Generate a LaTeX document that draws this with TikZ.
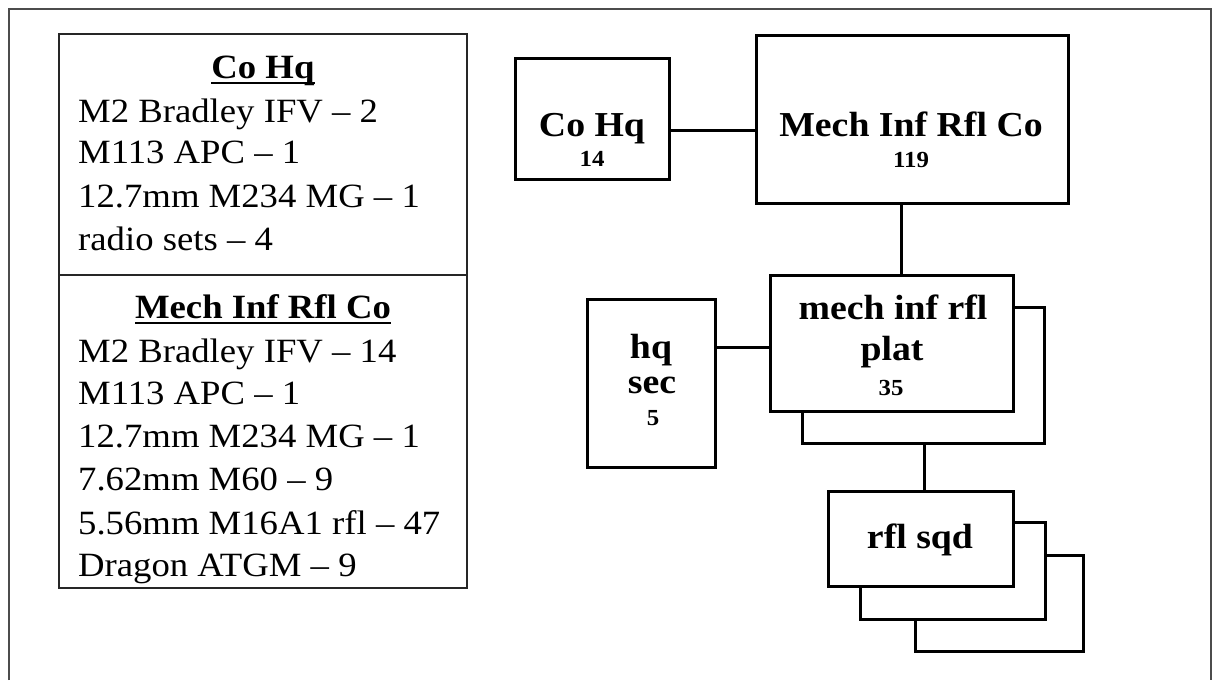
\documentclass[tikz,border=0pt]{standalone}
\usepackage{fontspec}
\setmainfont{Liberation Serif}[FakeStretch=1.08]
\newcommand\myuline[1]{\setbox0\hbox{#1}\rlap{\rule[-6pt]{\wd0}{2pt}}\box0}
\begin{document}
\begin{tikzpicture}[x=1pt,y=-1pt,
  frame/.style={draw=black!70,line width=2.5pt},
  tbl/.style={draw=black!85,line width=1.6pt,inner sep=0pt,rectangle},
  box/.style={draw=black,line width=3pt,fill=white,inner sep=0pt,rectangle},
  conn/.style={draw=black,line width=3pt},
  tbltext/.style={anchor=base west,inner sep=0pt,font=\fontsize{34}{40}\selectfont},
  tblhead/.style={anchor=base,inner sep=0pt,font=\fontsize{34}{40}\selectfont\bfseries},
  lbl/.style={anchor=base,inner sep=0pt,font=\fontsize{35}{40}\selectfont\bfseries},
  num/.style={anchor=base,inner sep=0pt,font=\fontsize{23}{26}\selectfont\bfseries},
]
\useasboundingbox (0,0) rectangle (1212,680);
\fill[white] (0,0) rectangle (1212,680);
% outer frame (open at the bottom)
\coordinate (fbl) at (9,680);
\coordinate (ftl) at (9,9);
\coordinate (ftr) at (1211,9);
\coordinate (fbr) at (1211,680);
\draw[frame] (fbl) -- (ftl) -- (ftr) -- (fbr);

% left table
\node[tbl,minimum width=408pt,minimum height=554pt] (table) at (263,311) {};
\coordinate (div) at (0,275);
\draw[draw=black!85,line width=1.6pt] (table.west |- div) -- (table.east |- div);

\node[tblhead] (h1) at (263,78) {\myuline{Co Hq}};
\node[tbltext] (a1) at (78,122) {M2 Bradley IFV – 2};
\node[tbltext] (a2) at (78,163) {M113 APC – 1};
\node[tbltext] (a3) at (78,207) {12.7mm M234 MG – 1};
\node[tbltext] (a4) at (78,250) {radio sets – 4};

\node[tblhead] (h2) at (263,318) {\myuline{Mech Inf Rfl Co}};
\node[tbltext] (b1) at (78,362) {M2 Bradley IFV – 14};
\node[tbltext] (b2) at (78,404) {M113 APC – 1};
\node[tbltext] (b3) at (78,447) {12.7mm M234 MG – 1};
\node[tbltext] (b4) at (78,490) {7.62mm M60 – 9};
\node[tbltext] (b5) at (78,534) {5.56mm M16A1 rfl – 47};
\node[tbltext] (b6) at (78,576) {Dragon ATGM – 9};

% org chart boxes
\node[box,minimum width=154pt,minimum height=121pt] (cohq) at (592,118.5) {};
\node[box,minimum width=312pt,minimum height=168pt] (mirc) at (912,119) {};
\node[box,minimum width=242pt,minimum height=136pt] (platB) at (923,375) {};
\node[box,minimum width=243pt,minimum height=136pt] (plat) at (891.5,343) {};
\node[box,minimum width=128pt,minimum height=168pt] (hqsec) at (651,383) {};
\node[box,minimum width=168pt,minimum height=96pt] (sqdC) at (999,603) {};
\node[box,minimum width=185pt,minimum height=97pt] (sqdB) at (952.5,570.5) {};
\node[box,minimum width=185pt,minimum height=95pt] (sqd) at (920.5,538.5) {};

% labels
\node[lbl] (t1) at (592,136) {Co Hq};
\node[num] (n1) at (592,166) {14};
\node[lbl] (t2) at (911,136) {Mech Inf Rfl Co};
\node[num] (n2) at (911,167) {119};
\node[lbl] (t3) at (893,319) {mech inf rfl};
\node[lbl] (t4) at (892,360) {plat};
\node[num] (n3) at (891,395) {35};
\node[lbl] (t5) at (651,358) {hq};
\node[lbl] (t6) at (652,393) {sec};
\node[num] (n4) at (653,425) {5};
\node[lbl] (t7) at (920,548) {rfl sqd};

% connectors
\coordinate (y1) at (0,130);
\draw[conn] (cohq.east |- y1) -- (mirc.west |- y1);
\coordinate (x1) at (901,0);
\draw[conn] (mirc.south -| x1) -- (plat.north -| x1);
\coordinate (y2) at (0,347);
\draw[conn] (hqsec.east |- y2) -- (plat.west |- y2);
\coordinate (x2) at (924,0);
\draw[conn] (platB.south -| x2) -- (sqd.north -| x2);
\end{tikzpicture}
\end{document}
